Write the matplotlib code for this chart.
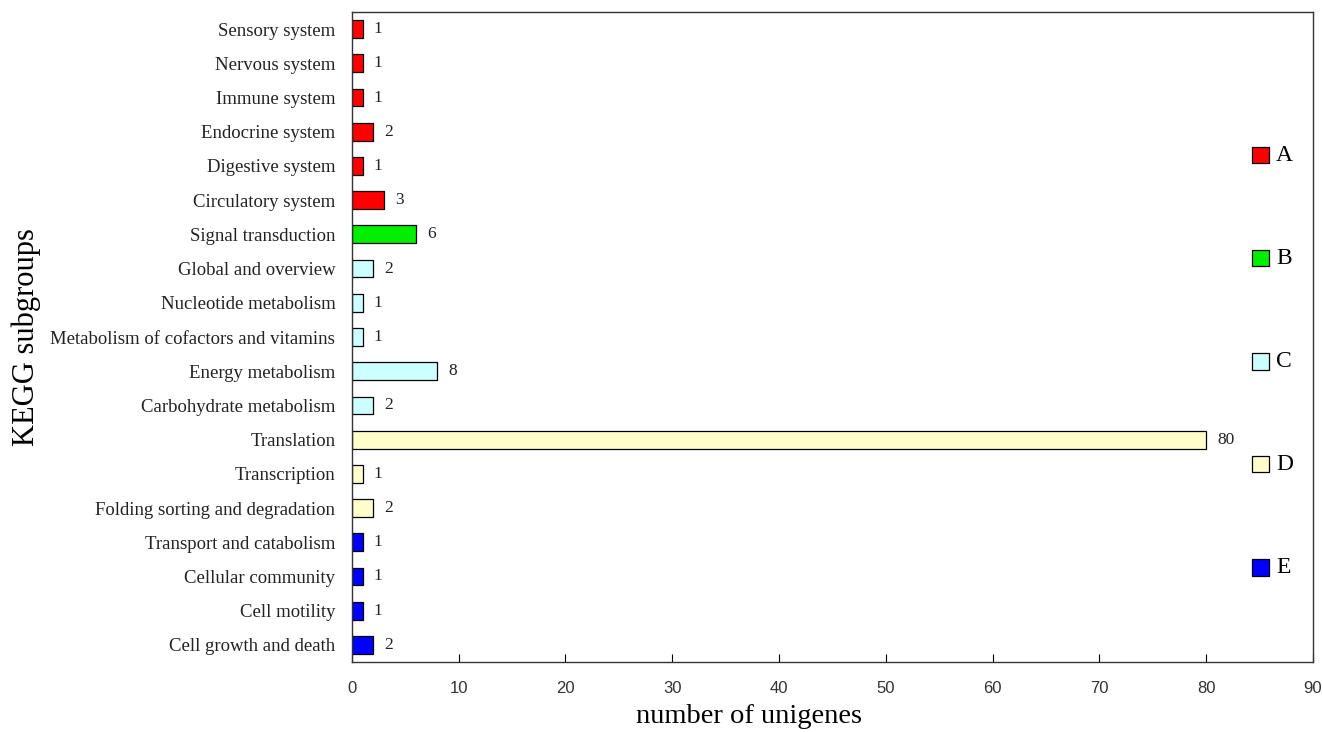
import matplotlib
matplotlib.use("Agg")
import matplotlib.pyplot as plt
from matplotlib.patches import Rectangle

categories = [
    "Sensory system", "Nervous system", "Immune system", "Endocrine system",
    "Digestive system", "Circulatory system", "Signal transduction",
    "Global and overview", "Nucleotide metabolism",
    "Metabolism of cofactors and vitamins", "Energy metabolism",
    "Carbohydrate metabolism", "Translation", "Transcription",
    "Folding sorting and degradation", "Transport and catabolism",
    "Cellular community", "Cell motility", "Cell growth and death",
]
values = [1, 1, 1, 2, 1, 3, 6, 2, 1, 1, 8, 2, 80, 1, 2, 1, 1, 1, 2]
groups = ["A"] * 6 + ["B"] + ["C"] * 5 + ["D"] * 3 + ["E"] * 4
group_names = ["A", "B", "C", "D", "E"]
group_colors = {"A": "#FF0000", "B": "#00EE00", "C": "#CCFFFF", "D": "#FFFFCC", "E": "#0000FF"}
xticks = [0, 10, 20, 30, 40, 50, 60, 70, 80, 90]

fig = plt.figure(figsize=(13.23, 7.32), dpi=100)
ax = fig.add_axes([0.266, 0.0956, 0.7264, 0.888])

ypos = list(range(len(categories)))
colors = [group_colors[g] for g in groups]
ax.barh(ypos, values, height=0.52, color=colors, edgecolor="black", linewidth=0.9)
for y, v in zip(ypos, values):
    ax.annotate(str(v), (v, y), xytext=(8, 0), textcoords="offset points",
                va="center", ha="left", fontsize=12.5, family="Liberation Serif",
                color="#222222")

ax.set_ylim(len(categories) - 0.5, -0.5)
ax.set_xlim(0, 90)
ax.set_yticks(ypos)
ax.set_yticklabels(categories, fontsize=13.5, family="Liberation Serif", color="#222222")
ax.tick_params(axis="y", length=0, pad=12)
ax.set_xticks(xticks)
ax.set_xticklabels([str(t) for t in xticks], fontsize=12, family="Liberation Sans", color="#333333")
ax.tick_params(axis="x", direction="in", length=6, pad=14)
for s in ax.spines.values():
    s.set_linewidth(1.0)
    s.set_color("#333333")

ax.set_xlabel("number of unigenes", fontsize=20.5, family="Liberation Serif")
ax.xaxis.set_label_coords(0.413, -0.0646)
ax.set_ylabel("KEGG subgroups", fontsize=22, family="Liberation Serif")
ax.yaxis.set_label_coords(-0.324, 0.5)

# legend drawn as patches in axes coordinates
leg_y = [0.78, 0.6215, 0.463, 0.3046, 0.146]
for name, ly in zip(group_names, leg_y):
    ax.add_patch(Rectangle((0.9365, ly - 0.013), 0.0177, 0.026, transform=ax.transAxes,
                           facecolor=group_colors[name], edgecolor="black", linewidth=0.9,
                           clip_on=False))
    ax.text(0.9615, ly, name, transform=ax.transAxes, fontsize=17,
            family="Liberation Serif", va="center", ha="left")

fig.savefig("out.png", dpi=100)
